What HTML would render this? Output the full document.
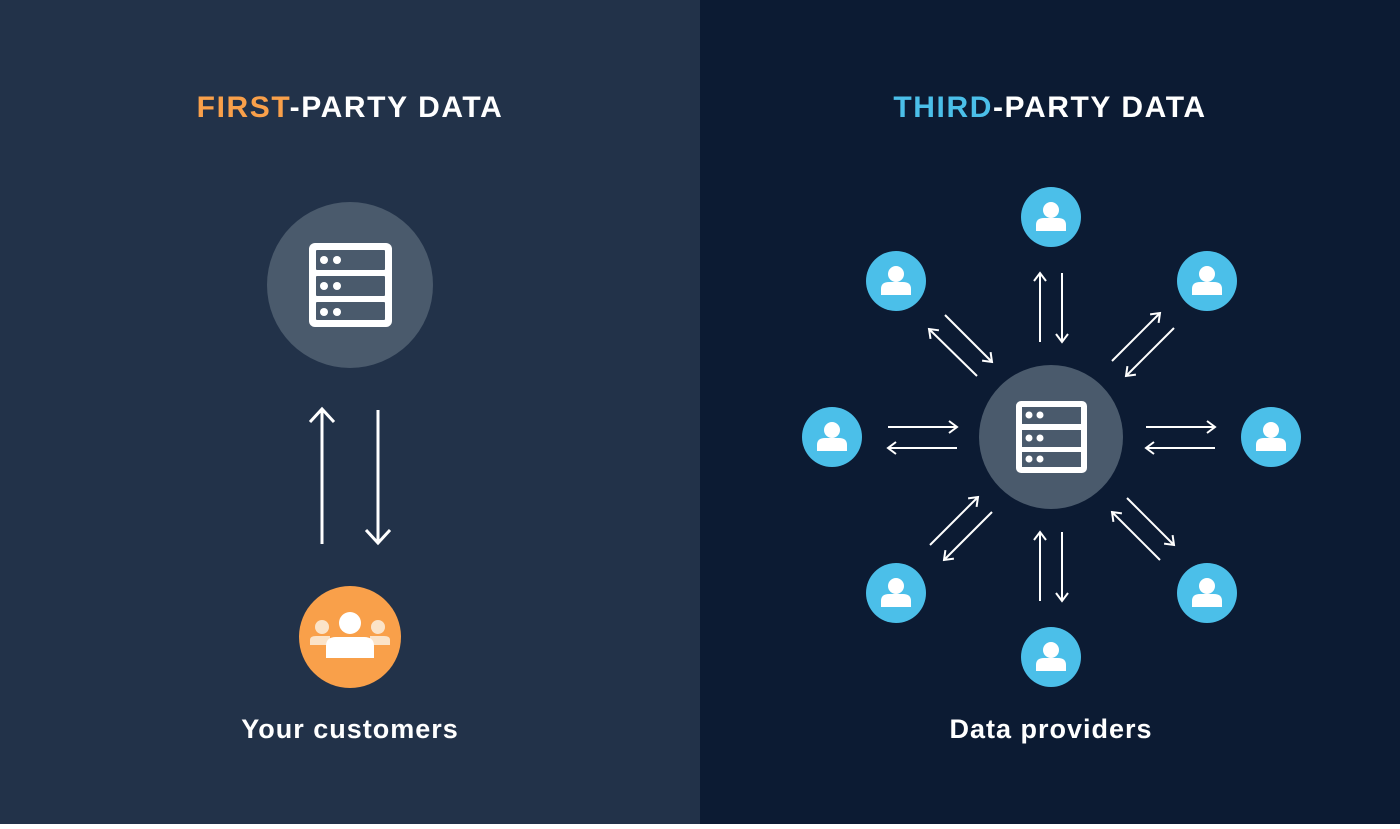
<!DOCTYPE html>
<html><head><style>
html,body{margin:0;padding:0;}
body{width:1400px;height:824px;overflow:hidden;font-family:"Liberation Sans",sans-serif;}
</style></head><body>
<svg width="1400" height="824" viewBox="0 0 1400 824" xmlns="http://www.w3.org/2000/svg">
<defs>
<marker id="ah" markerUnits="userSpaceOnUse" markerWidth="14" markerHeight="14" refX="10" refY="7" orient="auto">
<path d="M2,1 L10,7 L2,13" fill="none" stroke="#fff" stroke-width="2"/>
</marker>
<marker id="ahL" markerUnits="userSpaceOnUse" markerWidth="22" markerHeight="26" refX="15" refY="13" orient="auto">
<path d="M2,1 L15,13 L2,25" fill="none" stroke="#fff" stroke-width="3"/>
</marker>
<g id="person">
<circle cx="0" cy="-7" r="8" fill="#fff"/>
<path d="M-15,14 L-15,8 Q-15,1 -7,1 L7,1 Q15,1 15,8 L15,14 Z" fill="#fff"/>
</g>
</defs>
<rect x="0" y="0" width="700" height="824" fill="#223249"/>
<rect x="700" y="0" width="700" height="824" fill="#0c1b33"/>

<text x="350" y="117" text-anchor="middle" font-size="30" font-weight="bold" fill="#fff" letter-spacing="1.6"><tspan fill="#f9a04a">FIRST</tspan>-PARTY DATA</text>
<text x="1050" y="117" text-anchor="middle" font-size="30" font-weight="bold" fill="#fff" letter-spacing="1.6"><tspan fill="#4bbfe9">THIRD</tspan>-PARTY DATA</text>

<circle cx="350" cy="285" r="83" fill="#4a5a6c"/>
<rect x="309" y="243" width="83" height="84" rx="6" fill="#fff"/>
<rect x="316" y="250" width="69" height="20" rx="1" fill="#4a5a6c"/>
<rect x="316" y="276" width="69" height="20" rx="1" fill="#4a5a6c"/>
<rect x="316" y="302" width="69" height="18" rx="1" fill="#4a5a6c"/>
<g fill="#fff"><circle cx="324" cy="260" r="4"/><circle cx="337" cy="260" r="4"/><circle cx="324" cy="286" r="4"/><circle cx="337" cy="286" r="4"/><circle cx="324" cy="312" r="4"/><circle cx="337" cy="312" r="4"/></g>

<line x1="322" y1="544" x2="322" y2="409" stroke="#fff" stroke-width="3" marker-end="url(#ahL)"/>
<line x1="378" y1="410" x2="378" y2="543" stroke="#fff" stroke-width="3" marker-end="url(#ahL)"/>

<circle cx="350" cy="637" r="51" fill="#f9a04a"/>
<g fill="#fbe3c8"><circle cx="322" cy="627" r="7"/><path d="M310,645 L310,640 Q310,636 316,636 L330,636 L330,645 Z"/>
<circle cx="378" cy="627" r="7"/><path d="M390,645 L390,640 Q390,636 384,636 L370,636 L370,645 Z"/></g>
<circle cx="350" cy="623" r="11" fill="#fff"/>
<path d="M326,658 L326,646 Q326,637 336,637 L364,637 Q374,637 374,646 L374,658 Z" fill="#fff"/>

<text x="350" y="738" text-anchor="middle" font-size="27" font-weight="bold" fill="#fff" letter-spacing="1">Your customers</text>

<circle cx="1051" cy="437" r="72" fill="#4a5a6c"/>
<rect x="1016" y="401" width="71" height="72" rx="5" fill="#fff"/>
<rect x="1022" y="407" width="59" height="17" fill="#4a5a6c"/>
<rect x="1022" y="430" width="59" height="17" fill="#4a5a6c"/>
<rect x="1022" y="452" width="59" height="15" fill="#4a5a6c"/>
<g fill="#fff"><circle cx="1029" cy="415" r="3.5"/><circle cx="1040" cy="415" r="3.5"/><circle cx="1029" cy="438" r="3.5"/><circle cx="1040" cy="438" r="3.5"/><circle cx="1029" cy="459" r="3.5"/><circle cx="1040" cy="459" r="3.5"/></g>

<g fill="#4bbfe9">
<circle cx="1051" cy="217" r="30"/><circle cx="896" cy="281" r="30"/><circle cx="1207" cy="281" r="30"/>
<circle cx="832" cy="437" r="30"/><circle cx="1271" cy="437" r="30"/>
<circle cx="896" cy="593" r="30"/><circle cx="1207" cy="593" r="30"/><circle cx="1051" cy="657" r="30"/>
</g>
<use href="#person" x="1051" y="217"/><use href="#person" x="896" y="281"/><use href="#person" x="1207" y="281"/>
<use href="#person" x="832" y="437"/><use href="#person" x="1271" y="437"/>
<use href="#person" x="896" y="593"/><use href="#person" x="1207" y="593"/><use href="#person" x="1051" y="657"/>

<g stroke="#fff" stroke-width="2" marker-end="url(#ah)">
<line x1="1040" y1="342" x2="1040" y2="273"/>
<line x1="1062" y1="273" x2="1062" y2="342"/>
<line x1="1040" y1="601" x2="1040" y2="532"/>
<line x1="1062" y1="532" x2="1062" y2="601"/>
<line x1="888" y1="427" x2="957" y2="427"/>
<line x1="957" y1="448" x2="888" y2="448"/>
<line x1="1146" y1="427" x2="1215" y2="427"/>
<line x1="1215" y1="448" x2="1146" y2="448"/>
<line x1="977" y1="376" x2="929" y2="329"/>
<line x1="945" y1="315" x2="992" y2="362"/>
<line x1="1112" y1="361" x2="1160" y2="313"/>
<line x1="1174" y1="328" x2="1126" y2="376"/>
<line x1="930" y1="545" x2="978" y2="497"/>
<line x1="992" y1="512" x2="944" y2="560"/>
<line x1="1160" y1="560" x2="1112" y2="512"/>
<line x1="1127" y1="498" x2="1174" y2="545"/>
</g>

<text x="1051" y="738" text-anchor="middle" font-size="27" font-weight="bold" fill="#fff" letter-spacing="1">Data providers</text>
</svg>
</body></html>
